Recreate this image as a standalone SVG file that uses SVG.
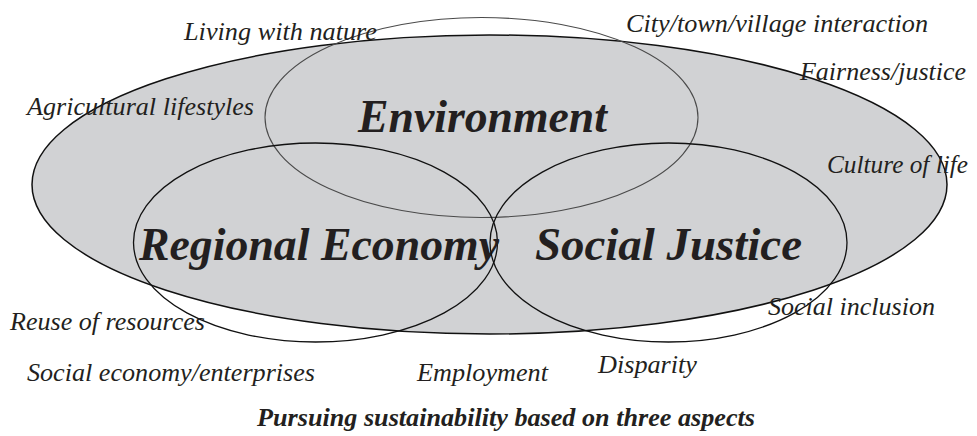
<svg xmlns="http://www.w3.org/2000/svg" width="977" height="436" viewBox="0 0 977 436">
<style>
.bg{fill:#ffffff}
.outer{fill:#d1d2d4;stroke:#111;stroke-width:1.5}
.ring{fill:none;stroke:#111;stroke-width:1.3}
.ring.env{stroke:#4a4a4a;stroke-width:1.1}
text{font-family:'Liberation Serif','Times New Roman','DejaVu Serif',serif;font-style:italic;fill:#231f20}
.lbl{font-size:26px}
.big{font-weight:bold;font-size:46px}
.cap{font-weight:bold;font-size:26px}
</style>
<rect class="bg" x="0" y="0" width="977" height="436"/>
<g id="sustainability">
<ellipse class="outer" cx="489.5" cy="184.5" rx="457.5" ry="149.5"/>
</g>
<g id="environment">
<ellipse class="ring env" cx="481.5" cy="117.5" rx="216.5" ry="100"/>
<text class="big" x="358" y="132" textLength="249" lengthAdjust="spacingAndGlyphs">Environment</text>
</g>
<g id="regional-economy">
<ellipse class="ring" cx="315.5" cy="242.5" rx="182" ry="99.5"/>
<text class="big" x="139" y="260" textLength="360" lengthAdjust="spacingAndGlyphs">Regional Economy</text>
</g>
<g id="social-justice">
<ellipse class="ring" cx="668.5" cy="242.5" rx="178.5" ry="99.5"/>
<text class="big" x="535" y="260" textLength="267" lengthAdjust="spacingAndGlyphs">Social Justice</text>
</g>
<g id="connectors"></g>
<g id="labels">
<text class="lbl" x="184" y="40" textLength="193" lengthAdjust="spacingAndGlyphs">Living with nature</text>
<text class="lbl" x="626" y="32" textLength="302" lengthAdjust="spacingAndGlyphs">City/town/village interaction</text>
<text class="lbl" x="800" y="80" textLength="166" lengthAdjust="spacingAndGlyphs">Fairness/justice</text>
<text class="lbl" x="27" y="115" textLength="227" lengthAdjust="spacingAndGlyphs">Agricultural lifestyles</text>
<text class="lbl" x="827" y="173" textLength="141" lengthAdjust="spacingAndGlyphs">Culture of life</text>
<text class="lbl" x="768" y="315" textLength="167" lengthAdjust="spacingAndGlyphs">Social inclusion</text>
<text class="lbl" x="10" y="330" textLength="195" lengthAdjust="spacingAndGlyphs">Reuse of resources</text>
<text class="lbl" x="27" y="381" textLength="288" lengthAdjust="spacingAndGlyphs">Social economy/enterprises</text>
<text class="lbl" x="417" y="381" textLength="131" lengthAdjust="spacingAndGlyphs">Employment</text>
<text class="lbl" x="598" y="373" textLength="99" lengthAdjust="spacingAndGlyphs">Disparity</text>
<text class="cap" x="257" y="426" textLength="498" lengthAdjust="spacingAndGlyphs">Pursuing sustainability based on three aspects</text>
</g>
</svg>
